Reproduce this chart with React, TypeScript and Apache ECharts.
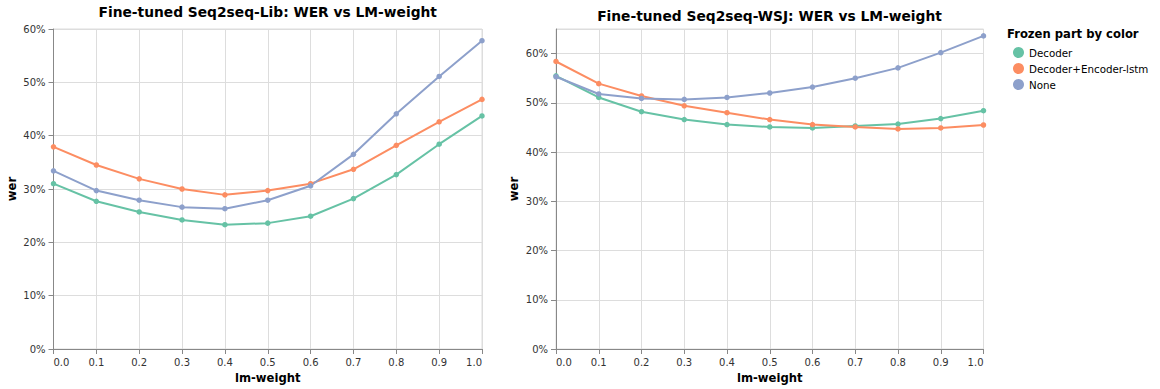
import React, { useEffect, useRef } from "react";
import * as echarts from "echarts";

const lmWeights = [0, 0.1, 0.2, 0.3, 0.4, 0.5, 0.6, 0.7, 0.8, 0.9, 1.0];
const seriesNames = ["Decoder", "Decoder+Encoder-lstm", "None"];
const colors = ["#66c2a5", "#fc8d62", "#8da0cb"];

// Left chart: Fine-tuned Seq2seq-Lib (wer in %)
const libDecoder = [31.0, 27.7, 25.7, 24.2, 23.3, 23.6, 24.9, 28.2, 32.7, 38.4, 43.7];
const libDecEnc = [37.9, 34.5, 31.9, 30.0, 28.9, 29.7, 31.0, 33.7, 38.2, 42.6, 46.8];
const libNone = [33.4, 29.7, 27.9, 26.6, 26.3, 27.9, 30.6, 36.5, 44.1, 51.1, 57.8];

// Right chart: Fine-tuned Seq2seq-WSJ (wer in %)
const wsjDecoder = [55.5, 51.1, 48.2, 46.6, 45.6, 45.1, 44.9, 45.3, 45.7, 46.8, 48.4];
const wsjDecEnc = [58.4, 53.9, 51.4, 49.4, 48.0, 46.6, 45.6, 45.1, 44.7, 44.9, 45.5];
const wsjNone = [55.3, 51.8, 50.9, 50.7, 51.1, 52.0, 53.2, 55.0, 57.1, 60.2, 63.6];

const FONT = "DejaVu Sans";

function makeXAxis(gridIndex: number) {
  return {
    type: "value",
    gridIndex,
    min: 0,
    max: 1,
    interval: 0.1,
    name: "lm-weight",
    nameLocation: "middle",
    nameGap: 22,
    nameTextStyle: { fontFamily: FONT, fontSize: 11.6, fontWeight: "bold", color: "#000" },
    axisLine: { show: true, lineStyle: { color: "#888", width: 1 } },
    axisTick: { show: true, length: 5, lineStyle: { color: "#888" } },
    axisLabel: {
      fontFamily: FONT,
      fontSize: 10,
      color: "#333",
      margin: 8,
      alignMinLabel: "left",
      alignMaxLabel: "right",
      formatter: (v: number) => v.toFixed(1),
    },
    splitLine: { show: true, lineStyle: { color: "#ddd", width: 1 } },
  };
}

function makeYAxis(gridIndex: number, max: number) {
  return {
    type: "value",
    gridIndex,
    min: 0,
    max,
    interval: 10,
    name: "wer",
    nameLocation: "middle",
    nameGap: 36,
    nameRotate: 90,
    nameTextStyle: { fontFamily: FONT, fontSize: 11.6, fontWeight: "bold", color: "#000" },
    axisLine: { show: true, lineStyle: { color: "#888", width: 1 } },
    axisTick: { show: true, length: 5, lineStyle: { color: "#888" } },
    axisLabel: {
      fontFamily: FONT,
      fontSize: 10,
      color: "#333",
      margin: 8,
      showMaxLabel: max % 10 === 0,
      formatter: (v: number) => (v % 10 === 0 ? v.toFixed(0) + "%" : ""),
    },
    splitLine: { show: true, lineStyle: { color: "#ddd", width: 1 } },
  };
}

function makeSeries(name: string, color: string, values: number[], idx: number) {
  return {
    type: "line",
    name,
    xAxisIndex: idx,
    yAxisIndex: idx,
    data: lmWeights.map((x, i) => [x, values[i]]),
    symbol: "circle",
    symbolSize: 5.5,
    lineStyle: { color, width: 2 },
    itemStyle: { color },
  };
}

export default function App() {
  const ref = useRef<HTMLDivElement>(null);
  useEffect(() => {
    document.body.style.margin = "0";
    if (!ref.current) return;
    const chart = echarts.init(ref.current, undefined, { renderer: "svg" });
    const libData = [libDecoder, libDecEnc, libNone];
    const wsjData = [wsjDecoder, wsjDecEnc, wsjNone];
    chart.setOption({
      animation: false,
      textStyle: { fontFamily: FONT },
      grid: [
        { left: 53.5, top: 29, width: 428.5, height: 320, show: true, borderColor: "#ddd", borderWidth: 1, containLabel: false },
        { left: 556, top: 29, width: 427.5, height: 320, show: true, borderColor: "#ddd", borderWidth: 1, containLabel: false },
      ],
      xAxis: [makeXAxis(0), makeXAxis(1)],
      yAxis: [makeYAxis(0, 60), makeYAxis(1, 65)],
      legend: {
        orient: "vertical",
        left: 1008,
        top: 42,
        icon: "circle",
        itemWidth: 11,
        itemHeight: 11,
        itemGap: 5,
        data: seriesNames,
        textStyle: { fontFamily: FONT, fontSize: 10.3, color: "#000" },
      },
      graphic: [
        {
          type: "text",
          x: 1007,
          y: 34.3,
          style: {
            text: "Frozen part by color",
            font: `bold 11.6px "${FONT}"`,
            fill: "#000",
            textVerticalAlign: "middle",
          },
        },
        {
          type: "text",
          x: 267.7,
          y: 11.5,
          style: {
            text: "Fine-tuned Seq2seq-Lib: WER vs LM-weight",
            font: `bold 13.8px "${FONT}"`,
            fill: "#000",
            textAlign: "center",
            textVerticalAlign: "middle",
          },
        },
        {
          type: "text",
          x: 769.5,
          y: 16,
          style: {
            text: "Fine-tuned Seq2seq-WSJ: WER vs LM-weight",
            font: `bold 13.8px "${FONT}"`,
            fill: "#000",
            textAlign: "center",
            textVerticalAlign: "middle",
          },
        },
      ],
      series: [
        ...seriesNames.map((n, i) => makeSeries(n, colors[i], libData[i], 0)),
        ...seriesNames.map((n, i) => makeSeries(n, colors[i], wsjData[i], 1)),
      ],
    });
    return () => chart.dispose();
  }, []);
  return <div ref={ref} style={{ width: 1160, height: 389 }} />;
}
